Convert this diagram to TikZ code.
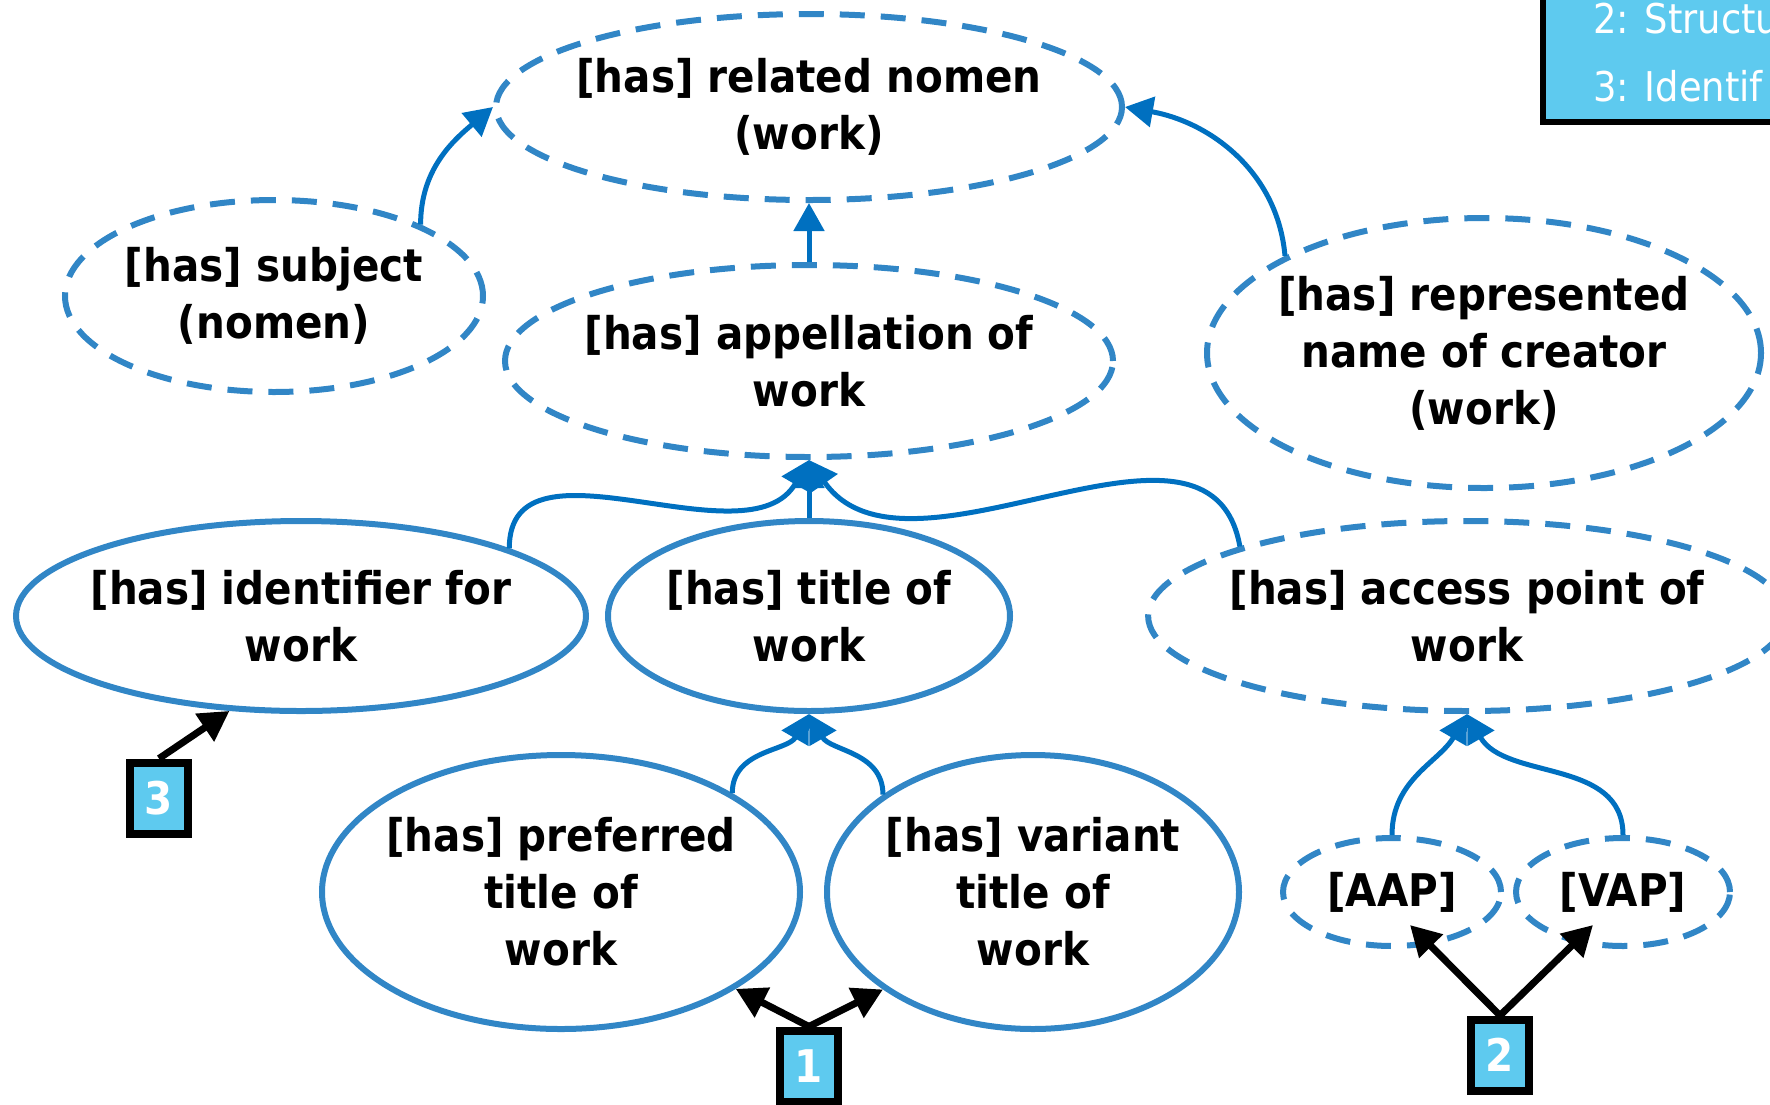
\documentclass[tikz,border=0pt]{standalone}
\usepackage{fontspec}
\setmainfont{DejaVu Sans}[FakeStretch=0.9]
\usetikzlibrary{arrows.meta,positioning,calc,shapes.geometric}

\definecolor{ellblue}{RGB}{49,134,198}
\definecolor{arrblue}{RGB}{0,112,192}
\definecolor{boxfill}{RGB}{94,202,239}
\newcommand{\ellfont}{\fontsize{45}{57}\selectfont\bfseries}

\begin{document}
\begin{tikzpicture}[x=1pt,y=1pt,->,>={Triangle[length=28pt,width=30pt]},node distance=254pt,
        dashell/.style={ellipse,draw=ellblue,line width=6pt,dash pattern=on 25pt off 16pt,
          align=center,inner xsep=-12pt,inner ysep=0pt,font=\ellfont},
        solidell/.style={ellipse,draw=ellblue,line width=6pt,
          align=center,inner xsep=-12pt,inner ysep=0pt,font=\ellfont},
        numbox/.style={rectangle,draw=black,line width=8pt,fill=boxfill,minimum width=58pt,
          minimum height=71pt,inner sep=0pt,text=white,font=\fontsize{45}{54}\selectfont\bfseries},
        link/.style={draw=arrblue,line width=5pt},
        pointer/.style={draw=black,line width=7pt,>={Triangle[length=30pt,width=32pt]}},
        legendtext/.style={text=white,anchor=base west,inner sep=0pt,font=\fontsize{41}{50}\selectfont}]

  \useasboundingbox (0,0) rectangle (1770,-1104);
  \clip (0,0) rectangle (1770,-1104);

  \node[dashell,minimum width=626pt,minimum height=186pt] (nomen) at (809,-107) {[has] related nomen\\(work)};
  \node[dashell,minimum width=608pt,minimum height=192pt] (appel) [below of=nomen] {[has] appellation of\\work};
  \node[dashell,minimum width=418pt,minimum height=192pt] (subject) at (274,-296) {[has] subject\\(nomen)};
  \node[dashell,minimum width=554pt,minimum height=270pt] (creator) at (1484,-353) {[has] represented\\name of creator\\(work)};
  \node[solidell,minimum width=402pt,minimum height=190pt] (title) [below of=appel,node distance=255pt] {[has] title of\\work};
  \node[solidell,minimum width=570pt,minimum height=190pt] (ident) [left of=title,node distance=508pt] {[has] identifier for\\work};
  \node[dashell,minimum width=632pt,minimum height=190pt] (access) [right of=title,node distance=658pt] {[has] access point of\\work};
  \node[solidell,minimum width=478pt,minimum height=274pt] (pref) at (561,-892) {[has] preferred\\title of\\work};
  \node[solidell,minimum width=412pt,minimum height=274pt] (var) [right of=pref,node distance=472pt] {[has] variant\\title of\\work};
  \node[dashell,minimum width=218pt,minimum height=108pt] (aap) at (1392,-892) {[AAP]};
  \node[dashell,minimum width=214pt,minimum height=108pt] (vap) [right of=aap,node distance=231pt] {[VAP]};

  \node[numbox] (n3) at (159,-798) {3};
  \node[numbox] (n1) at (809,-1066) {1};
  \node[numbox] (n2) at (1500,-1055) {2};

  \draw[-,line width=6pt,fill=boxfill] (1543,30) rectangle (1810,-122);
  \node[legendtext] (leg2) at (1593,-33) {2: Structu};
  \node[legendtext] (leg3) at (1593,-101) {3: Identif};

  \path (subject.26) edge[link,out=90,in=220] (nomen.west)
        (creator.154) edge[link,out=95,in=-10] (nomen.east)
        (appel.north) edge[link] (nomen.south)
        (ident.18) edge[link,out=90,in=-120] (appel.south)
        (title.north) edge[link] (appel.south)
        (access.163) edge[link,out=100,in=-55] (appel.south)
        (pref.30) edge[link,out=90,in=-120] (title.south)
        (var.147) edge[link,out=90,in=-60] (title.south)
        (aap.north) edge[link,out=90,in=-120] (access.south)
        (vap.north) edge[link,out=90,in=-60] (access.south);

  \path (n3.north) edge[pointer] (ident.233)
        (n1.north) edge[pointer] (pref.331)
        (n1.north) edge[pointer] (var.213)
        (n2.north) edge[pointer] ($(aap.center)+(18,-33)$)
        (n2.north) edge[pointer] ($(vap.center)+(-30,-33)$);

\end{tikzpicture}
\end{document}
